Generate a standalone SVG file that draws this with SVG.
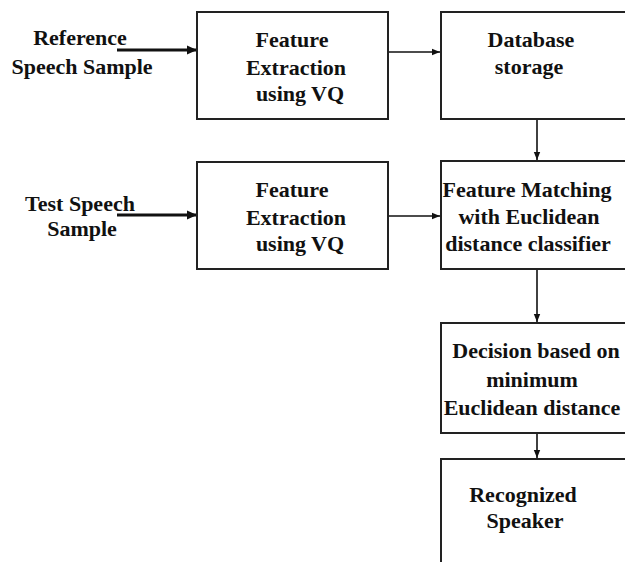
<svg xmlns="http://www.w3.org/2000/svg" width="625" height="562" viewBox="0 0 625 562">
<style>
.box{fill:#fff;stroke:#222;stroke-width:2}
.t{font-family:"Liberation Serif",serif;font-weight:bold;font-size:22px;fill:#111;text-anchor:middle}
.c{stroke:#111;stroke-width:1.6;fill:none}
.ct{stroke:#111;stroke-width:3;fill:none}
</style>
<defs>
<marker id="ah" viewBox="0 0 10 10" refX="10" refY="5" markerWidth="10" markerHeight="8" markerUnits="userSpaceOnUse" orient="auto"><path d="M0,1 L10,5 L0,9 z" fill="#111"/></marker>
<marker id="ahb" viewBox="0 0 10 10" refX="10" refY="5" markerWidth="16" markerHeight="10" markerUnits="userSpaceOnUse" orient="auto"><path d="M0,0.5 L10,5 L0,9.5 z" fill="#111"/></marker>
</defs>
<g id="connectors">
<line class="ct" x1="117" y1="50" x2="197" y2="50" marker-end="url(#ahb)"/>
<line class="ct" x1="117" y1="215" x2="197" y2="215" marker-end="url(#ahb)"/>
<line class="c" x1="388" y1="52" x2="440" y2="52" marker-end="url(#ah)"/>
<line class="c" x1="388" y1="216" x2="440" y2="216" marker-end="url(#ah)"/>
<line class="c" x1="537" y1="119" x2="537" y2="160" marker-end="url(#ah)"/>
<line class="c" x1="537" y1="269" x2="537" y2="322" marker-end="url(#ah)"/>
<line class="c" x1="537" y1="433" x2="537" y2="458" marker-end="url(#ah)"/>
</g>
<g id="ref-label">
<text class="t" x="80" y="45">Reference</text>
<text class="t" x="82" y="74">Speech Sample</text>
</g>
<g id="test-label">
<text class="t" x="80" y="211">Test Speech</text>
<text class="t" x="82" y="236">Sample</text>
</g>
<g id="fe1">
<rect class="box" x="197" y="12" width="191" height="107"/>
<text class="t" x="292" y="47">Feature</text>
<text class="t" x="296" y="75">Extraction</text>
<text class="t" x="300" y="101">using VQ</text>
</g>
<g id="fe2">
<rect class="box" x="197" y="162" width="191" height="107"/>
<text class="t" x="292" y="197">Feature</text>
<text class="t" x="296" y="225">Extraction</text>
<text class="t" x="300" y="251">using VQ</text>
</g>
<g id="db">
<rect class="box" x="441" y="12" width="200" height="107"/>
<text class="t" x="531" y="47">Database</text>
<text class="t" x="529" y="74">storage</text>
</g>
<g id="fm">
<rect class="box" x="441" y="161" width="200" height="108"/>
<text class="t" x="527" y="197">Feature Matching</text>
<text class="t" x="529" y="224">with Euclidean</text>
<text class="t" x="528" y="251">distance classifier</text>
</g>
<g id="dec">
<rect class="box" x="441" y="323" width="200" height="110"/>
<text class="t" x="536" y="358">Decision based on</text>
<text class="t" x="532" y="387">minimum</text>
<text class="t" x="532" y="415">Euclidean distance</text>
</g>
<g id="rec">
<rect class="box" x="441" y="459" width="200" height="120"/>
<text class="t" x="523" y="502">Recognized</text>
<text class="t" x="525" y="528">Speaker</text>
</g>
</svg>
